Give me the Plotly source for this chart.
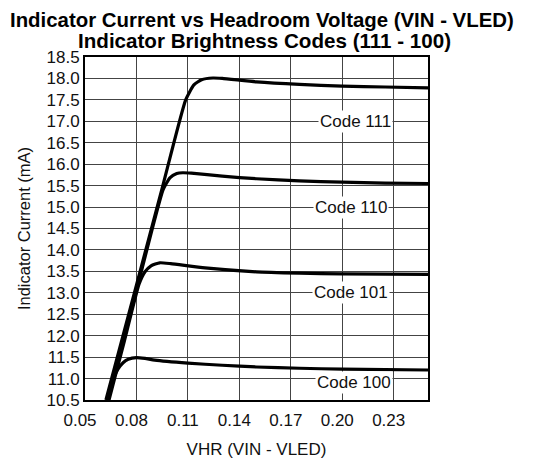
import plotly.graph_objects as go

# Data
code111_x = [0.0622, 0.0800, 0.0950, 0.1087, 0.1135, 0.1180, 0.1246, 0.1300, 0.1500, 0.1750, 0.2000, 0.2250, 0.2500]
code111_y = [10.50, 13.18, 15.44, 17.50, 17.85, 17.97, 18.01, 18.00, 17.92, 17.86, 17.82, 17.80, 17.78]

code110_x = [0.0632, 0.0800, 0.0955, 0.0995, 0.1035, 0.1070, 0.1120, 0.1300, 0.1500, 0.1750, 0.2000, 0.2250, 0.2500]
code110_y = [10.50, 13.05, 15.40, 15.68, 15.78, 15.80, 15.79, 15.72, 15.66, 15.61, 15.58, 15.56, 15.55]

code101_x = [0.0640, 0.0730, 0.0815, 0.0850, 0.0885, 0.0936, 0.1000, 0.1200, 0.1500, 0.1750, 0.2000, 0.2500]
code101_y = [10.50, 11.88, 13.20, 13.49, 13.63, 13.70, 13.68, 13.58, 13.49, 13.46, 13.44, 13.43]

code100_x = [0.0628, 0.0660, 0.0692, 0.0722, 0.0752, 0.0800, 0.0850, 0.0907, 0.1100, 0.1300, 0.1500, 0.1750, 0.2000, 0.2500]
code100_y = [10.50, 10.95, 11.22, 11.37, 11.45, 11.49, 11.47, 11.43, 11.36, 11.31, 11.27, 11.24, 11.22, 11.20]

series_names = ["Code 111", "Code 110", "Code 101", "Code 100"]
label_x = [0.2075, 0.2050, 0.2050, 0.2066]
label_y = [17.0, 15.0, 13.0, 10.9]

x_ticks = [0.05, 0.08, 0.11, 0.14, 0.17, 0.20, 0.23]
x_tick_text = ["0.05", "0.08", "0.11", "0.14", "0.17", "0.20", "0.23"]
y_ticks = [10.5, 11.0, 11.5, 12.0, 12.5, 13.0, 13.5, 14.0, 14.5, 15.0, 15.5, 16.0, 16.5, 17.0, 17.5, 18.0, 18.5]
y_tick_text = [f"{v:.1f}" for v in y_ticks]

title_line1 = "Indicator Current vs Headroom Voltage (VIN - VLED)"
title_line2 = "Indicator Brightness Codes (111 - 100)"

FONT = "Liberation Sans, Arial, sans-serif"
TXT = "#111111"

fig = go.Figure()
for name, xs, ys in zip(series_names,
                        [code111_x, code110_x, code101_x, code100_x],
                        [code111_y, code110_y, code101_y, code100_y]):
    fig.add_trace(go.Scatter(x=xs, y=ys, mode="lines", name=name,
                             line=dict(color="black", width=3.2, shape="spline", smoothing=0.5),
                             showlegend=False, hoverinfo="skip"))

for name, lx, ly in zip(series_names, label_x, label_y):
    fig.add_annotation(x=lx, y=ly, xref="x", yref="y", text=name, showarrow=False,
                       font=dict(family=FONT, size=17, color=TXT),
                       bgcolor="white", borderpad=1)

fig.add_annotation(x=0.516, y=1.1087, xref="paper", yref="paper", xanchor="center", yanchor="middle",
                   text="<b>" + title_line1 + "</b>", showarrow=False,
                   font=dict(family=FONT, size=20.4, color="black"))
fig.add_annotation(x=0.523, y=1.0475, xref="paper", yref="paper", xanchor="center", yanchor="middle",
                   text="<b>" + title_line2 + "</b>", showarrow=False,
                   font=dict(family=FONT, size=20.6, color="black"))

fig.update_xaxes(range=[0.05, 0.25], tickvals=x_ticks, ticktext=x_tick_text,
                 showgrid=True, gridcolor="#444444", gridwidth=1, zeroline=False,
                 showline=True, linecolor="black", linewidth=2, mirror=True,
                 ticks="", ticklabelshift=-5, ticklabelstandoff=4, automargin=False,
                 tickfont=dict(family=FONT, size=17, color=TXT),
                 title=dict(text="VHR (VIN - VLED)", font=dict(family=FONT, size=17, color=TXT), standoff=14))
fig.update_yaxes(range=[10.5, 18.5], tickvals=y_ticks, ticktext=y_tick_text,
                 showgrid=True, gridcolor="#444444", gridwidth=1, zeroline=False,
                 showline=True, linecolor="black", linewidth=2, mirror=True,
                 ticks="", automargin=False,
                 tickfont=dict(family=FONT, size=17, color=TXT),
                 title=dict(text="Indicator Current (mA)", font=dict(family=FONT, size=16.5, color=TXT), standoff=12))

fig.update_layout(width=540, height=461, margin=dict(l=77, r=120, t=49, b=69),
                  paper_bgcolor="white", plot_bgcolor="white",
                  font=dict(family=FONT, color="black"))

fig.write_html("out.html")
